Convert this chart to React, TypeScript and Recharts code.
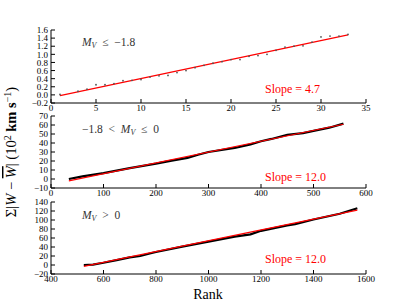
import { ComposedChart, Line, XAxis, YAxis } from 'recharts';

// panel 1: bright stars (M_V <= -1.8)
const p1Rank = [1, 3, 4, 5, 6, 7, 8, 9, 10, 11, 12, 13, 14, 15, 16, 17, 18, 19, 20, 21, 22, 23, 24, 25, 26, 27, 28, 29, 30, 31, 32, 33];
const p1Sum = [0.01, 0.09, 0.14, 0.25, 0.25, 0.28, 0.35, 0.36, 0.38, 0.44, 0.47, 0.48, 0.55, 0.6, 0.67, 0.73, 0.78, 0.82, 0.87, 0.87, 0.95, 0.97, 1.0, 1.1, 1.18, 1.2, 1.21, 1.3, 1.43, 1.45, 1.45, 1.49];
const p1FitRank = [1, 33];
const p1Fit = [-0.02, 1.48];

// panel 2: -1.8 < M_V <= 0
const p2Rank = [34, 60, 100, 150, 200, 230, 260, 280, 300, 350, 380, 400, 420, 450, 480, 500, 530, 557];
const p2Sum = [0, 3, 6.5, 12, 17, 20.5, 23.5, 27, 30, 34.5, 38.5, 42, 44.5, 49, 51, 53.5, 57, 61.5];
const p2FitRank = [34, 557];
const p2Fit = [-2, 60.8];

// panel 3: M_V > 0
const p3Rank = [525, 560, 600, 650, 700, 740, 780, 800, 900, 1000, 1100, 1160, 1200, 1300, 1330, 1400, 1500, 1567];
const p3Sum = [0, 1, 5, 11, 17, 20, 26, 29, 41, 52, 63, 68, 76, 88, 91, 101, 114, 126];
const p3FitRank = [525, 1567];
const p3Fit = [-3, 122];

const p1XTicks = [0, 5, 10, 15, 20, 25, 30, 35];
const p1YTicks = [-0.2, 0, 0.2, 0.4, 0.6, 0.8, 1.0, 1.2, 1.4, 1.6];
const p2XTicks = [0, 100, 200, 300, 400, 500, 600];
const p2YTicks = [-10, 0, 10, 20, 30, 40, 50, 60, 70];
const p3XTicks = [400, 600, 800, 1000, 1200, 1400, 1600];
const p3YTicks = [-20, 0, 20, 40, 60, 80, 100, 120, 140];

const zip = (xs: number[], ys: number[]) => xs.map((x, i) => ({ x, y: ys[i] }));
const minus = (v: number, digits: number) => v.toFixed(digits).replace('-', '\u2212');

const FONT = '"Liberation Serif", "DejaVu Serif", serif';
const tickStyle = { fontSize: 9, fill: '#000', fontFamily: FONT };

type PanelProps = {
  top: number;
  height: number;
  line: { x: number; y: number }[];
  fit: { x: number; y: number }[];
  dots: boolean;
  xTicks: number[];
  yTicks: number[];
  yDigits: number;
};

function Panel({ top, height, line, fit, dots, xTicks, yTicks, yDigits }: PanelProps) {
  const xDom: [number, number] = [xTicks[0], xTicks[xTicks.length - 1]];
  const yDom: [number, number] = [yTicks[0], yTicks[yTicks.length - 1]];
  return (
    <div style={{ position: 'absolute', left: 0, top }}>
      <ComposedChart width={407} height={height} margin={{ top: 5, right: 41, bottom: 0, left: 0 }}>
        <XAxis xAxisId="b" dataKey="x" type="number" domain={xDom} ticks={xTicks} height={20}
          tickSize={-4} tickMargin={6} stroke="#000" tick={tickStyle} interval={0} allowDataOverflow />
        <XAxis xAxisId="t" orientation="top" dataKey="x" type="number" domain={xDom} ticks={xTicks} height={0}
          tickSize={-4} tick={false} stroke="#000" interval={0} allowDataOverflow />
        <YAxis yAxisId="l" type="number" domain={yDom} ticks={yTicks} width={51}
          tickSize={-4} tickMargin={7} stroke="#000" tick={tickStyle} interval={0}
          tickFormatter={(v: number) => minus(v, yDigits)} allowDataOverflow />
        <YAxis yAxisId="r" orientation="right" type="number" domain={yDom} ticks={yTicks} width={0}
          tickSize={-4} tick={false} stroke="#000" interval={0} allowDataOverflow />
        {dots ? (
          <Line xAxisId="b" yAxisId="l" data={line} dataKey="y" stroke="none" isAnimationActive={false}
            dot={{ r: 0.9, fill: '#555', stroke: 'none' }} />
        ) : (
          <Line xAxisId="b" yAxisId="l" data={line} dataKey="y" stroke="#000" strokeWidth={2.2}
            dot={false} isAnimationActive={false} />
        )}
        <Line xAxisId="b" yAxisId="l" data={fit} dataKey="y" stroke="#ff0000" strokeWidth={1.2}
          dot={false} isAnimationActive={false} />
      </ComposedChart>
    </div>
  );
}

const annot = { fontFamily: FONT, fontSize: 11.5, fill: '#333' };
const slope = { fontFamily: FONT, fontSize: 12, fill: '#ff0000' };

export default function App() {
  return (
    <div style={{ position: 'absolute', left: 0, top: 0, width: 407, height: 305, background: '#fff' }}>
      <Panel top={25} height={98} line={zip(p1Rank, p1Sum)} fit={zip(p1FitRank, p1Fit)} dots
        xTicks={p1XTicks} yTicks={p1YTicks} yDigits={1} />
      <Panel top={111} height={97} line={zip(p2Rank, p2Sum)} fit={zip(p2FitRank, p2Fit)} dots={false}
        xTicks={p2XTicks} yTicks={p2YTicks} yDigits={0} />
      <Panel top={197} height={97} line={zip(p3Rank, p3Sum)} fit={zip(p3FitRank, p3Fit)} dots={false}
        xTicks={p3XTicks} yTicks={p3YTicks} yDigits={0} />
      <svg width={407} height={305} style={{ position: 'absolute', left: 0, top: 0, pointerEvents: 'none' }}>
        <text x={82} y={46} {...annot} xmlSpace="preserve">
          <tspan fontStyle="italic">M</tspan><tspan fontSize={8} dy={2} fontStyle="italic">V</tspan>
          <tspan dy={-2}>{'  \u2264  \u22121.8'}</tspan>
        </text>
        <text x={82} y={133} {...annot} xmlSpace="preserve">
          <tspan>{'\u22121.8  <  '}</tspan><tspan fontStyle="italic">M</tspan>
          <tspan fontSize={8} dy={2} fontStyle="italic">V</tspan><tspan dy={-2}>{'  \u2264  0'}</tspan>
        </text>
        <text x={82} y={219} {...annot} xmlSpace="preserve">
          <tspan fontStyle="italic">M</tspan><tspan fontSize={8} dy={2} fontStyle="italic">V</tspan>
          <tspan dy={-2}>{'  >  0'}</tspan>
        </text>
        <text x={265} y={93} {...slope}>Slope = 4.7</text>
        <text x={265} y={181} {...slope}>Slope = 12.0</text>
        <text x={265} y={263} {...slope}>Slope = 12.0</text>
        <text x={208} y={299} textAnchor="middle" fontFamily={FONT} fontSize={14}>Rank</text>
        <text transform="translate(16,152) rotate(-90)" textAnchor="middle" fontFamily={FONT} fontSize={14.5} xmlSpace="preserve">
          <tspan>{'\u03A3|'}</tspan><tspan fontStyle="italic">W</tspan><tspan>{' \u2212 '}</tspan>
          <tspan fontStyle="italic" textDecoration="overline">W</tspan><tspan>{'| (10'}</tspan>
          <tspan fontSize={10} dy={-5}>2</tspan><tspan dy={5} fontWeight="bold">{' km s'}</tspan>
          <tspan fontSize={10} dy={-5}>{'\u22121'}</tspan><tspan dy={5}>)</tspan>
        </text>
      </svg>
    </div>
  );
}
